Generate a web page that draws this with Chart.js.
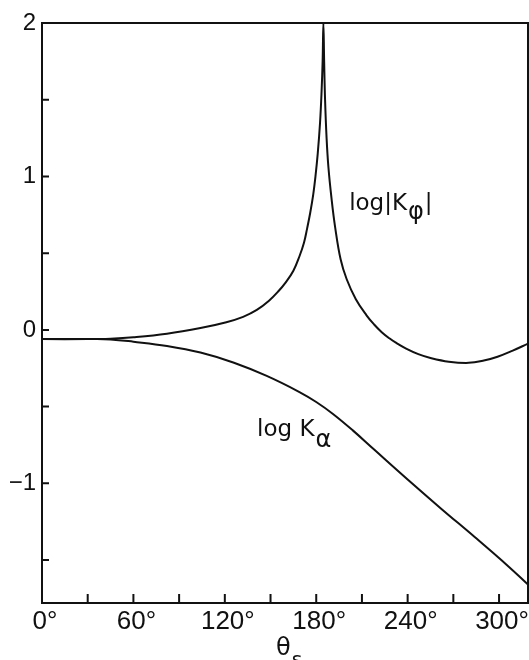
<!DOCTYPE html>
<html>
<head>
<meta charset="utf-8">
<script src="https://cdn.jsdelivr.net/npm/chart.js@4.4.1/dist/chart.umd.min.js"></script>
<style>
  html, body { margin: 0; padding: 0; background: #fff; }
  #wrap { width: 529px; height: 660px; }
</style>
</head>
<body>
<div id="wrap"><canvas id="grafico" width="529" height="660"></canvas></div>
<script>
// log|K_phi| em função de theta_s (graus)
const thetaPhi = [0, 30, 45, 60, 82, 104, 121, 132, 141, 149, 155, 160, 165, 169, 172, 174, 176, 178, 179.5, 181, 182.5, 183.5, 184.2, 184.7,
                  185.2, 185.8, 186.8, 188, 190, 192.4, 196, 200, 206, 213, 218, 223, 228, 232, 239, 247, 255, 267, 280, 290, 299, 309, 319];
const logPhi   = [-0.06, -0.06, -0.057, -0.048, -0.025, 0.012, 0.05, 0.085, 0.13, 0.19, 0.25, 0.31, 0.385, 0.48, 0.57, 0.66, 0.76, 0.88, 1.0, 1.15, 1.35, 1.55, 1.75, 2.0,
                  1.75, 1.5, 1.25, 1.06, 0.86, 0.67, 0.46, 0.33, 0.20, 0.095, 0.035, -0.015, -0.055, -0.082, -0.122, -0.158, -0.183, -0.207, -0.215, -0.20, -0.175, -0.135, -0.09];

// log K_alpha
const thetaAlpha = [0, 30, 45, 60, 82, 104, 126, 147.5, 169, 180, 191, 204, 218, 240, 262, 284, 306, 319];
const logAlpha   = [-0.06, -0.06, -0.062, -0.077, -0.105, -0.148, -0.214, -0.30, -0.405, -0.47, -0.548, -0.655, -0.78, -0.975, -1.165, -1.35, -1.54, -1.66];

const xTicks = [0, 30, 60, 90, 120, 150, 180, 210, 240, 270, 300];
const yTicks = [-1.5, -1, -0.5, 0, 0.5, 1, 1.5, 2];

const cor = '#111';
const fonte = '"DejaVu Sans", sans-serif';

function textoSub(ctx, x, y, main, sub, depois, tam, tamSub, desce) {
  ctx.font = tam + 'px ' + fonte;
  ctx.fillText(main, x, y);
  let w = ctx.measureText(main).width;
  ctx.font = tamSub + 'px ' + fonte;
  ctx.fillText(sub, x + w + 1, y + desce);
  w += ctx.measureText(sub).width + 2;
  if (depois) {
    ctx.font = tam + 'px ' + fonte;
    ctx.fillText(depois, x + w, y);
  }
}

const moldura = {
  id: 'moldura',
  afterDraw(chart) {
    const ctx = chart.ctx;
    const a = chart.chartArea;
    const sx = chart.scales.x, sy = chart.scales.y;
    ctx.save();
    ctx.strokeStyle = cor;
    ctx.lineWidth = 2;
    ctx.strokeRect(a.left, a.top, a.right - a.left, a.bottom - a.top);
    // marcas para dentro
    ctx.beginPath();
    xTicks.forEach(v => {
      const px = sx.getPixelForValue(v);
      ctx.moveTo(px, a.bottom);
      ctx.lineTo(px, a.bottom - 9);
    });
    yTicks.forEach(v => {
      const py = sy.getPixelForValue(v);
      ctx.moveTo(a.left, py);
      ctx.lineTo(a.left + 7, py);
    });
    ctx.stroke();

    ctx.fillStyle = cor;
    ctx.textBaseline = 'alphabetic';
    ctx.textAlign = 'left';
    textoSub(ctx, sx.getPixelForValue(201.6), sy.getPixelForValue(0.78), 'log|K', 'φ', '|', 23, 24, 9);
    textoSub(ctx, sx.getPixelForValue(141.2), sy.getPixelForValue(-0.69), 'log K', 'α', '', 23, 24, 11);
    textoSub(ctx, 276, 655, 'θ', 's', '', 24, 20, 11);
    ctx.restore();
  }
};

new Chart(document.getElementById('grafico'), {
  type: 'line',
  data: {
    datasets: [
      {
        label: 'log|Kφ|',
        data: thetaPhi.map((t, i) => ({ x: t, y: logPhi[i] })),
        borderColor: cor,
        borderWidth: 2,
        pointRadius: 0,
        tension: 0.4,
        fill: false
      },
      {
        label: 'log Kα',
        data: thetaAlpha.map((t, i) => ({ x: t, y: logAlpha[i] })),
        borderColor: cor,
        borderWidth: 2,
        pointRadius: 0,
        tension: 0.4,
        fill: false
      }
    ]
  },
  options: {
    responsive: false,
    animation: false,
    layout: { padding: { top: 23, right: 1, left: 0, bottom: 0 } },
    plugins: { legend: { display: false }, tooltip: { enabled: false } },
    scales: {
      x: {
        type: 'linear',
        min: 0,
        max: 319,
        afterBuildTicks: s => { s.ticks = xTicks.map(v => ({ value: v })); },
        afterFit: s => { s.height = 57; },
        grid: { display: false, drawTicks: false },
        border: { display: false },
        ticks: {
          autoSkip: false,
          maxRotation: 0,
          padding: 3,
          labelOffset: 3,
          color: cor,
          font: { family: '"Liberation Sans", Arial, sans-serif', size: 26 },
          callback: v => v % 60 === 0 ? v + '°' : ''
        }
      },
      y: {
        min: -1.78,
        max: 2,
        afterBuildTicks: s => { s.ticks = yTicks.map(v => ({ value: v })); },
        afterFit: s => { s.width = 42; },
        grid: { display: false, drawTicks: false },
        border: { display: false },
        ticks: {
          autoSkip: false,
          padding: 6,
          color: cor,
          font: { family: '"Liberation Sans", Arial, sans-serif', size: 24 },
          callback: v => Number.isInteger(v) ? (v < 0 ? '−' + (-v) : String(v)) : ''
        }
      }
    }
  },
  plugins: [moldura]
});
</script>
</body>
</html>
